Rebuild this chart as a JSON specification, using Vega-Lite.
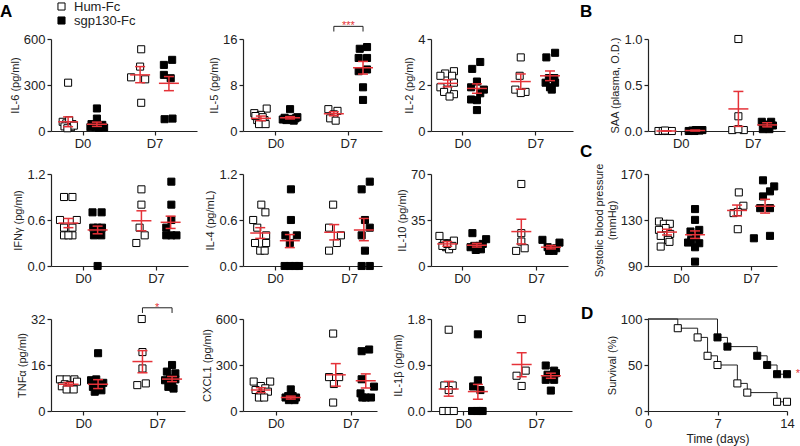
{
"$schema": "https://vega.github.io/schema/vega-lite/v6.json",
"autosize": {"type": "none"},
"padding": {"left": 51, "top": 39, "right": 749, "bottom": 407},
"config": {
 "view": {"stroke": null},
 "font": "Liberation Sans",
 "axis": {"domainColor": "#222", "tickColor": "#222", "labelColor": "#222", "titleColor": "#222", "grid": false, "labelFontSize": 13, "titleFontSize": 11, "titleFontWeight": "normal", "tickSize": 4, "labelPadding": 2, "titlePadding": 3, "domainWidth": 1.2, "tickWidth": 1.2, "labelFlush": false, "labelOverlap": false, "labelFont": "Liberation Sans", "titleFont": "Liberation Sans"},
 "title": {"fontSize": 17, "fontWeight": "bold", "anchor": "start", "frame": "group", "font": "Liberation Sans", "baseline": "alphabetic", "offset": 0, "color": "black"}
},
"datasets": {
 "pts": [
  {"p":"IL6","g":"Hum-Fc","x":0.6,"v":315},{"p":"IL6","g":"Hum-Fc","x":0.45,"v":60},{"p":"IL6","g":"Hum-Fc","x":0.55,"v":50},{"p":"IL6","g":"Hum-Fc","x":0.72,"v":45},{"p":"IL6","g":"Hum-Fc","x":0.63,"v":70},{"p":"IL6","g":"Hum-Fc","x":0.5,"v":30},{"p":"IL6","g":"Hum-Fc","x":0.68,"v":25},{"p":"IL6","g":"Hum-Fc","x":0.76,"v":35},{"p":"IL6","g":"Hum-Fc","x":0.58,"v":18},
  {"p":"IL6","g":"sgp130-Fc","x":1.4,"v":147},{"p":"IL6","g":"sgp130-Fc","x":1.4,"v":81},{"p":"IL6","g":"sgp130-Fc","x":1.25,"v":45},{"p":"IL6","g":"sgp130-Fc","x":1.55,"v":40},{"p":"IL6","g":"sgp130-Fc","x":1.3,"v":35},{"p":"IL6","g":"sgp130-Fc","x":1.5,"v":30},{"p":"IL6","g":"sgp130-Fc","x":1.36,"v":25},{"p":"IL6","g":"sgp130-Fc","x":1.45,"v":20},{"p":"IL6","g":"sgp130-Fc","x":1.6,"v":22},{"p":"IL6","g":"sgp130-Fc","x":1.22,"v":25},
  {"p":"IL6","g":"Hum-Fc","x":2.63,"v":533},{"p":"IL6","g":"Hum-Fc","x":2.6,"v":420},{"p":"IL6","g":"Hum-Fc","x":2.35,"v":350},{"p":"IL6","g":"Hum-Fc","x":2.74,"v":337},{"p":"IL6","g":"Hum-Fc","x":2.63,"v":184},
  {"p":"IL6","g":"sgp130-Fc","x":3.26,"v":431},{"p":"IL6","g":"sgp130-Fc","x":3.49,"v":464},{"p":"IL6","g":"sgp130-Fc","x":3.26,"v":366},{"p":"IL6","g":"sgp130-Fc","x":3.45,"v":344},{"p":"IL6","g":"sgp130-Fc","x":3.28,"v":77},{"p":"IL6","g":"sgp130-Fc","x":3.5,"v":81},

  {"p":"IL5","g":"Hum-Fc","x":0.42,"v":3.1},{"p":"IL5","g":"Hum-Fc","x":0.76,"v":3.9},{"p":"IL5","g":"Hum-Fc","x":0.6,"v":2.8},{"p":"IL5","g":"Hum-Fc","x":0.5,"v":1.9},{"p":"IL5","g":"Hum-Fc","x":0.7,"v":1.9},{"p":"IL5","g":"Hum-Fc","x":0.55,"v":1.2},{"p":"IL5","g":"Hum-Fc","x":0.73,"v":1.2},{"p":"IL5","g":"Hum-Fc","x":0.45,"v":2.6},{"p":"IL5","g":"Hum-Fc","x":0.65,"v":2.4},
  {"p":"IL5","g":"sgp130-Fc","x":1.4,"v":3.8},{"p":"IL5","g":"sgp130-Fc","x":1.25,"v":2.3},{"p":"IL5","g":"sgp130-Fc","x":1.35,"v":2.1},{"p":"IL5","g":"sgp130-Fc","x":1.45,"v":2.0},{"p":"IL5","g":"sgp130-Fc","x":1.55,"v":2.2},{"p":"IL5","g":"sgp130-Fc","x":1.3,"v":1.9},{"p":"IL5","g":"sgp130-Fc","x":1.5,"v":1.8},{"p":"IL5","g":"sgp130-Fc","x":1.6,"v":2.4},{"p":"IL5","g":"sgp130-Fc","x":1.2,"v":2.0},
  {"p":"IL5","g":"Hum-Fc","x":2.45,"v":3.8},{"p":"IL5","g":"Hum-Fc","x":2.7,"v":3.5},{"p":"IL5","g":"Hum-Fc","x":2.6,"v":2.9},{"p":"IL5","g":"Hum-Fc","x":2.5,"v":2.2},{"p":"IL5","g":"Hum-Fc","x":2.65,"v":1.8},
  {"p":"IL5","g":"sgp130-Fc","x":3.31,"v":14.3},{"p":"IL5","g":"sgp130-Fc","x":3.51,"v":14.6},{"p":"IL5","g":"sgp130-Fc","x":3.28,"v":12.7},{"p":"IL5","g":"sgp130-Fc","x":3.51,"v":12.7},{"p":"IL5","g":"sgp130-Fc","x":3.28,"v":10.4},{"p":"IL5","g":"sgp130-Fc","x":3.51,"v":10.7},{"p":"IL5","g":"sgp130-Fc","x":3.4,"v":7.6},{"p":"IL5","g":"sgp130-Fc","x":3.4,"v":5.4},

  {"p":"IL2","g":"Hum-Fc","x":0.77,"v":2.6},{"p":"IL2","g":"Hum-Fc","x":0.53,"v":2.5},{"p":"IL2","g":"Hum-Fc","x":0.72,"v":2.4},{"p":"IL2","g":"Hum-Fc","x":0.4,"v":2.4},{"p":"IL2","g":"Hum-Fc","x":0.77,"v":2.1},{"p":"IL2","g":"Hum-Fc","x":0.4,"v":1.9},{"p":"IL2","g":"Hum-Fc","x":0.6,"v":1.8},{"p":"IL2","g":"Hum-Fc","x":0.5,"v":1.7},{"p":"IL2","g":"Hum-Fc","x":0.77,"v":1.6},{"p":"IL2","g":"Hum-Fc","x":0.65,"v":1.5},
  {"p":"IL2","g":"sgp130-Fc","x":1.49,"v":3.0},{"p":"IL2","g":"sgp130-Fc","x":1.27,"v":2.7},{"p":"IL2","g":"sgp130-Fc","x":1.4,"v":2.15},{"p":"IL2","g":"sgp130-Fc","x":1.24,"v":1.9},{"p":"IL2","g":"sgp130-Fc","x":1.59,"v":1.8},{"p":"IL2","g":"sgp130-Fc","x":1.49,"v":1.64},{"p":"IL2","g":"sgp130-Fc","x":1.24,"v":1.37},{"p":"IL2","g":"sgp130-Fc","x":1.4,"v":1.34},{"p":"IL2","g":"sgp130-Fc","x":1.4,"v":0.91},
  {"p":"IL2","g":"Hum-Fc","x":2.6,"v":3.2},{"p":"IL2","g":"Hum-Fc","x":2.57,"v":2.4},{"p":"IL2","g":"Hum-Fc","x":2.45,"v":1.8},{"p":"IL2","g":"Hum-Fc","x":2.73,"v":1.7},{"p":"IL2","g":"Hum-Fc","x":2.6,"v":1.65},
  {"p":"IL2","g":"sgp130-Fc","x":3.54,"v":3.4},{"p":"IL2","g":"sgp130-Fc","x":3.3,"v":3.2},{"p":"IL2","g":"sgp130-Fc","x":3.37,"v":2.3},{"p":"IL2","g":"sgp130-Fc","x":3.52,"v":2.3},{"p":"IL2","g":"sgp130-Fc","x":3.28,"v":2.1},{"p":"IL2","g":"sgp130-Fc","x":3.54,"v":2.1},{"p":"IL2","g":"sgp130-Fc","x":3.4,"v":1.9},{"p":"IL2","g":"sgp130-Fc","x":3.45,"v":1.8},

  {"p":"SAA","g":"Hum-Fc","x":0.38,"v":0},{"p":"SAA","g":"Hum-Fc","x":0.5,"v":0},{"p":"SAA","g":"Hum-Fc","x":0.62,"v":0},{"p":"SAA","g":"Hum-Fc","x":0.75,"v":0},{"p":"SAA","g":"Hum-Fc","x":0.56,"v":0.005},
  {"p":"SAA","g":"sgp130-Fc","x":1.22,"v":0},{"p":"SAA","g":"sgp130-Fc","x":1.32,"v":0.005},{"p":"SAA","g":"sgp130-Fc","x":1.42,"v":0.01},{"p":"SAA","g":"sgp130-Fc","x":1.52,"v":0.005},{"p":"SAA","g":"sgp130-Fc","x":1.6,"v":0.01},{"p":"SAA","g":"sgp130-Fc","x":1.38,"v":0},
  {"p":"SAA","g":"Hum-Fc","x":2.6,"v":1.0},{"p":"SAA","g":"Hum-Fc","x":2.6,"v":0.16},{"p":"SAA","g":"Hum-Fc","x":2.43,"v":0.01},{"p":"SAA","g":"Hum-Fc","x":2.75,"v":0.01},{"p":"SAA","g":"Hum-Fc","x":2.6,"v":0.02},
  {"p":"SAA","g":"sgp130-Fc","x":3.25,"v":0.1},{"p":"SAA","g":"sgp130-Fc","x":3.51,"v":0.1},{"p":"SAA","g":"sgp130-Fc","x":3.32,"v":0.07},{"p":"SAA","g":"sgp130-Fc","x":3.42,"v":0.04},{"p":"SAA","g":"sgp130-Fc","x":3.56,"v":0.06},{"p":"SAA","g":"sgp130-Fc","x":3.28,"v":0.02},{"p":"SAA","g":"sgp130-Fc","x":3.46,"v":0.02},

  {"p":"IFN","g":"Hum-Fc","x":0.48,"v":0.9},{"p":"IFN","g":"Hum-Fc","x":0.71,"v":0.9},{"p":"IFN","g":"Hum-Fc","x":0.37,"v":0.6},{"p":"IFN","g":"Hum-Fc","x":0.83,"v":0.6},{"p":"IFN","g":"Hum-Fc","x":0.48,"v":0.5},{"p":"IFN","g":"Hum-Fc","x":0.71,"v":0.5},{"p":"IFN","g":"Hum-Fc","x":0.48,"v":0.4},{"p":"IFN","g":"Hum-Fc","x":0.71,"v":0.4},{"p":"IFN","g":"Hum-Fc","x":0.6,"v":0.4},
  {"p":"IFN","g":"sgp130-Fc","x":1.26,"v":0.7},{"p":"IFN","g":"sgp130-Fc","x":1.51,"v":0.7},{"p":"IFN","g":"sgp130-Fc","x":1.4,"v":0.5},{"p":"IFN","g":"sgp130-Fc","x":1.28,"v":0.5},{"p":"IFN","g":"sgp130-Fc","x":1.52,"v":0.5},{"p":"IFN","g":"sgp130-Fc","x":1.3,"v":0.4},{"p":"IFN","g":"sgp130-Fc","x":1.5,"v":0.4},{"p":"IFN","g":"sgp130-Fc","x":1.4,"v":0.0},
  {"p":"IFN","g":"Hum-Fc","x":2.6,"v":1.0},{"p":"IFN","g":"Hum-Fc","x":2.6,"v":0.8},{"p":"IFN","g":"Hum-Fc","x":2.55,"v":0.5},{"p":"IFN","g":"Hum-Fc","x":2.69,"v":0.4},{"p":"IFN","g":"Hum-Fc","x":2.46,"v":0.3},
  {"p":"IFN","g":"sgp130-Fc","x":3.42,"v":1.1},{"p":"IFN","g":"sgp130-Fc","x":3.42,"v":0.8},{"p":"IFN","g":"sgp130-Fc","x":3.42,"v":0.6},{"p":"IFN","g":"sgp130-Fc","x":3.28,"v":0.5},{"p":"IFN","g":"sgp130-Fc","x":3.28,"v":0.4},{"p":"IFN","g":"sgp130-Fc","x":3.42,"v":0.4},{"p":"IFN","g":"sgp130-Fc","x":3.56,"v":0.4},

  {"p":"IL4","g":"Hum-Fc","x":0.63,"v":0.8},{"p":"IL4","g":"Hum-Fc","x":0.74,"v":0.7},{"p":"IL4","g":"Hum-Fc","x":0.41,"v":0.6},{"p":"IL4","g":"Hum-Fc","x":0.52,"v":0.5},{"p":"IL4","g":"Hum-Fc","x":0.76,"v":0.4},{"p":"IL4","g":"Hum-Fc","x":0.46,"v":0.3},{"p":"IL4","g":"Hum-Fc","x":0.76,"v":0.3},{"p":"IL4","g":"Hum-Fc","x":0.6,"v":0.2},{"p":"IL4","g":"Hum-Fc","x":0.72,"v":0.2},
  {"p":"IL4","g":"sgp130-Fc","x":1.43,"v":1.0},{"p":"IL4","g":"sgp130-Fc","x":1.43,"v":0.6},{"p":"IL4","g":"sgp130-Fc","x":1.28,"v":0.4},{"p":"IL4","g":"sgp130-Fc","x":1.59,"v":0.4},{"p":"IL4","g":"sgp130-Fc","x":1.4,"v":0.3},{"p":"IL4","g":"sgp130-Fc","x":1.26,"v":0},{"p":"IL4","g":"sgp130-Fc","x":1.4,"v":0},{"p":"IL4","g":"sgp130-Fc","x":1.54,"v":0},{"p":"IL4","g":"sgp130-Fc","x":1.65,"v":0},
  {"p":"IL4","g":"Hum-Fc","x":2.57,"v":0.8},{"p":"IL4","g":"Hum-Fc","x":2.46,"v":0.5},{"p":"IL4","g":"Hum-Fc","x":2.78,"v":0.4},{"p":"IL4","g":"Hum-Fc","x":2.67,"v":0.3},{"p":"IL4","g":"Hum-Fc","x":2.46,"v":0.2},
  {"p":"IL4","g":"sgp130-Fc","x":3.56,"v":1.1},{"p":"IL4","g":"sgp130-Fc","x":3.34,"v":1.0},{"p":"IL4","g":"sgp130-Fc","x":3.43,"v":0.6},{"p":"IL4","g":"sgp130-Fc","x":3.56,"v":0.5},{"p":"IL4","g":"sgp130-Fc","x":3.34,"v":0.4},{"p":"IL4","g":"sgp130-Fc","x":3.43,"v":0.2},{"p":"IL4","g":"sgp130-Fc","x":3.34,"v":0},{"p":"IL4","g":"sgp130-Fc","x":3.56,"v":0},

  {"p":"IL10","g":"Hum-Fc","x":0.39,"v":22.9},{"p":"IL10","g":"Hum-Fc","x":0.52,"v":17.3},{"p":"IL10","g":"Hum-Fc","x":0.65,"v":17.3},{"p":"IL10","g":"Hum-Fc","x":0.78,"v":19.3},{"p":"IL10","g":"Hum-Fc","x":0.57,"v":14.3},{"p":"IL10","g":"Hum-Fc","x":0.65,"v":12.7},{"p":"IL10","g":"Hum-Fc","x":0.47,"v":15.3},{"p":"IL10","g":"Hum-Fc","x":0.74,"v":15.3},{"p":"IL10","g":"Hum-Fc","x":0.6,"v":16.8},
  {"p":"IL10","g":"sgp130-Fc","x":1.28,"v":25},{"p":"IL10","g":"sgp130-Fc","x":1.65,"v":20.4},{"p":"IL10","g":"sgp130-Fc","x":1.33,"v":15.3},{"p":"IL10","g":"sgp130-Fc","x":1.47,"v":15.3},{"p":"IL10","g":"sgp130-Fc","x":1.51,"v":12.7},{"p":"IL10","g":"sgp130-Fc","x":1.37,"v":12.2},{"p":"IL10","g":"sgp130-Fc","x":1.23,"v":14.3},{"p":"IL10","g":"sgp130-Fc","x":1.56,"v":16.8},{"p":"IL10","g":"sgp130-Fc","x":1.42,"v":13},
  {"p":"IL10","g":"Hum-Fc","x":2.6,"v":62.4},{"p":"IL10","g":"Hum-Fc","x":2.6,"v":25},{"p":"IL10","g":"Hum-Fc","x":2.6,"v":18.6},{"p":"IL10","g":"Hum-Fc","x":2.69,"v":13.5},{"p":"IL10","g":"Hum-Fc","x":2.46,"v":11.5},
  {"p":"IL10","g":"sgp130-Fc","x":3.17,"v":19.9},{"p":"IL10","g":"sgp130-Fc","x":3.63,"v":17.8},{"p":"IL10","g":"sgp130-Fc","x":3.31,"v":14.3},{"p":"IL10","g":"sgp130-Fc","x":3.4,"v":12.2},{"p":"IL10","g":"sgp130-Fc","x":3.54,"v":13.5},{"p":"IL10","g":"sgp130-Fc","x":3.35,"v":11.5},{"p":"IL10","g":"sgp130-Fc","x":3.47,"v":11.5},

  {"p":"SBP","g":"Hum-Fc","x":0.37,"v":128.7},{"p":"SBP","g":"Hum-Fc","x":0.51,"v":126.7},{"p":"SBP","g":"Hum-Fc","x":0.68,"v":126.7},{"p":"SBP","g":"Hum-Fc","x":0.56,"v":123},{"p":"SBP","g":"Hum-Fc","x":0.37,"v":121.4},{"p":"SBP","g":"Hum-Fc","x":0.69,"v":117.9},{"p":"SBP","g":"Hum-Fc","x":0.42,"v":116.2},{"p":"SBP","g":"Hum-Fc","x":0.63,"v":112.7},{"p":"SBP","g":"Hum-Fc","x":0.42,"v":106.9},{"p":"SBP","g":"Hum-Fc","x":0.67,"v":111},
  {"p":"SBP","g":"sgp130-Fc","x":1.4,"v":139.5},{"p":"SBP","g":"sgp130-Fc","x":1.4,"v":130.1},{"p":"SBP","g":"sgp130-Fc","x":1.27,"v":120},{"p":"SBP","g":"sgp130-Fc","x":1.52,"v":121.4},{"p":"SBP","g":"sgp130-Fc","x":1.29,"v":112.7},{"p":"SBP","g":"sgp130-Fc","x":1.43,"v":115.6},{"p":"SBP","g":"sgp130-Fc","x":1.52,"v":109.8},{"p":"SBP","g":"sgp130-Fc","x":1.2,"v":110.4},{"p":"SBP","g":"sgp130-Fc","x":1.4,"v":106.3},{"p":"SBP","g":"sgp130-Fc","x":1.4,"v":93.8},
  {"p":"SBP","g":"Hum-Fc","x":2.65,"v":154},{"p":"SBP","g":"Hum-Fc","x":2.78,"v":142.4},{"p":"SBP","g":"Hum-Fc","x":2.5,"v":136},{"p":"SBP","g":"Hum-Fc","x":2.62,"v":137},{"p":"SBP","g":"Hum-Fc","x":2.62,"v":122},
  {"p":"SBP","g":"sgp130-Fc","x":3.34,"v":164.5},{"p":"SBP","g":"sgp130-Fc","x":3.66,"v":159.2},{"p":"SBP","g":"sgp130-Fc","x":3.54,"v":154.9},{"p":"SBP","g":"sgp130-Fc","x":3.34,"v":150.5},{"p":"SBP","g":"sgp130-Fc","x":3.26,"v":140.3},{"p":"SBP","g":"sgp130-Fc","x":3.54,"v":140.3},{"p":"SBP","g":"sgp130-Fc","x":3.08,"v":114.1},{"p":"SBP","g":"sgp130-Fc","x":3.54,"v":116.2},

  {"p":"TNF","g":"Hum-Fc","x":0.37,"v":11},{"p":"TNF","g":"Hum-Fc","x":0.55,"v":11},{"p":"TNF","g":"Hum-Fc","x":0.76,"v":11},{"p":"TNF","g":"Hum-Fc","x":0.83,"v":10.2},{"p":"TNF","g":"Hum-Fc","x":0.5,"v":9.3},{"p":"TNF","g":"Hum-Fc","x":0.64,"v":9},{"p":"TNF","g":"Hum-Fc","x":0.42,"v":8.6},{"p":"TNF","g":"Hum-Fc","x":0.55,"v":7.5},{"p":"TNF","g":"Hum-Fc","x":0.74,"v":7.5},
  {"p":"TNF","g":"sgp130-Fc","x":1.4,"v":20.1},{"p":"TNF","g":"sgp130-Fc","x":1.21,"v":10.7},{"p":"TNF","g":"sgp130-Fc","x":1.35,"v":11},{"p":"TNF","g":"sgp130-Fc","x":1.54,"v":9.8},{"p":"TNF","g":"sgp130-Fc","x":1.26,"v":8.4},{"p":"TNF","g":"sgp130-Fc","x":1.45,"v":7.8},{"p":"TNF","g":"sgp130-Fc","x":1.31,"v":6.7},{"p":"TNF","g":"sgp130-Fc","x":1.49,"v":7.2},{"p":"TNF","g":"sgp130-Fc","x":1.4,"v":9.3},
  {"p":"TNF","g":"Hum-Fc","x":2.58,"v":32},{"p":"TNF","g":"Hum-Fc","x":2.6,"v":20.5},{"p":"TNF","g":"Hum-Fc","x":2.6,"v":14.8},{"p":"TNF","g":"Hum-Fc","x":2.46,"v":9},{"p":"TNF","g":"Hum-Fc","x":2.69,"v":9.6},
  {"p":"TNF","g":"sgp130-Fc","x":3.4,"v":16},{"p":"TNF","g":"sgp130-Fc","x":3.26,"v":13.7},{"p":"TNF","g":"sgp130-Fc","x":3.49,"v":13.1},{"p":"TNF","g":"sgp130-Fc","x":3.35,"v":11.3},{"p":"TNF","g":"sgp130-Fc","x":3.49,"v":11},{"p":"TNF","g":"sgp130-Fc","x":3.21,"v":10.7},{"p":"TNF","g":"sgp130-Fc","x":3.3,"v":8.4},{"p":"TNF","g":"sgp130-Fc","x":3.44,"v":7.8},{"p":"TNF","g":"sgp130-Fc","x":3.4,"v":9.6},

  {"p":"CX","g":"Hum-Fc","x":0.41,"v":192},{"p":"CX","g":"Hum-Fc","x":0.85,"v":192},{"p":"CX","g":"Hum-Fc","x":0.6,"v":163},{"p":"CX","g":"Hum-Fc","x":0.72,"v":148},{"p":"CX","g":"Hum-Fc","x":0.46,"v":137},{"p":"CX","g":"Hum-Fc","x":0.79,"v":126},{"p":"CX","g":"Hum-Fc","x":0.6,"v":104},{"p":"CX","g":"Hum-Fc","x":0.55,"v":88},{"p":"CX","g":"Hum-Fc","x":0.69,"v":88},
  {"p":"CX","g":"sgp130-Fc","x":1.4,"v":141},{"p":"CX","g":"sgp130-Fc","x":1.26,"v":88},{"p":"CX","g":"sgp130-Fc","x":1.4,"v":82},{"p":"CX","g":"sgp130-Fc","x":1.54,"v":88},{"p":"CX","g":"sgp130-Fc","x":1.33,"v":97},{"p":"CX","g":"sgp130-Fc","x":1.5,"v":71},{"p":"CX","g":"sgp130-Fc","x":1.35,"v":71},{"p":"CX","g":"sgp130-Fc","x":1.45,"v":97},
  {"p":"CX","g":"Hum-Fc","x":2.53,"v":505},{"p":"CX","g":"Hum-Fc","x":2.42,"v":221},{"p":"CX","g":"Hum-Fc","x":2.69,"v":221},{"p":"CX","g":"Hum-Fc","x":2.55,"v":176},{"p":"CX","g":"Hum-Fc","x":2.53,"v":55},
  {"p":"CX","g":"sgp130-Fc","x":3.29,"v":390},{"p":"CX","g":"sgp130-Fc","x":3.49,"v":401},{"p":"CX","g":"sgp130-Fc","x":3.29,"v":207},{"p":"CX","g":"sgp130-Fc","x":3.62,"v":159},{"p":"CX","g":"sgp130-Fc","x":3.26,"v":115},{"p":"CX","g":"sgp130-Fc","x":3.4,"v":88},{"p":"CX","g":"sgp130-Fc","x":3.54,"v":88},{"p":"CX","g":"sgp130-Fc","x":3.31,"v":88},

  {"p":"IL1","g":"Hum-Fc","x":0.6,"v":1.59},{"p":"IL1","g":"Hum-Fc","x":0.48,"v":0.5},{"p":"IL1","g":"Hum-Fc","x":0.71,"v":0.5},{"p":"IL1","g":"Hum-Fc","x":0.6,"v":0.41},{"p":"IL1","g":"Hum-Fc","x":0.45,"v":0},{"p":"IL1","g":"Hum-Fc","x":0.6,"v":0},{"p":"IL1","g":"Hum-Fc","x":0.74,"v":0},
  {"p":"IL1","g":"sgp130-Fc","x":1.4,"v":1.5},{"p":"IL1","g":"sgp130-Fc","x":1.4,"v":0.6},{"p":"IL1","g":"sgp130-Fc","x":1.27,"v":0.48},{"p":"IL1","g":"sgp130-Fc","x":1.47,"v":0.41},{"p":"IL1","g":"sgp130-Fc","x":1.24,"v":0},{"p":"IL1","g":"sgp130-Fc","x":1.38,"v":0},{"p":"IL1","g":"sgp130-Fc","x":1.53,"v":0},{"p":"IL1","g":"sgp130-Fc","x":1.46,"v":0},
  {"p":"IL1","g":"Hum-Fc","x":2.6,"v":1.8},{"p":"IL1","g":"Hum-Fc","x":2.71,"v":0.79},{"p":"IL1","g":"Hum-Fc","x":2.46,"v":0.69},{"p":"IL1","g":"Hum-Fc","x":2.6,"v":0.49},
  {"p":"IL1","g":"sgp130-Fc","x":3.26,"v":0.89},{"p":"IL1","g":"sgp130-Fc","x":3.49,"v":0.79},{"p":"IL1","g":"sgp130-Fc","x":3.31,"v":0.71},{"p":"IL1","g":"sgp130-Fc","x":3.54,"v":0.74},{"p":"IL1","g":"sgp130-Fc","x":3.4,"v":0.66},{"p":"IL1","g":"sgp130-Fc","x":3.26,"v":0.61},{"p":"IL1","g":"sgp130-Fc","x":3.49,"v":0.61},{"p":"IL1","g":"sgp130-Fc","x":3.4,"v":0.4}
 ],
 "sum": [
  {"p":"IL6","x":0.6,"v":60,"lo":28,"hi":92},{"p":"IL6","x":1.4,"v":44,"lo":30,"hi":58},{"p":"IL6","x":2.6,"v":366,"lo":315,"hi":420},{"p":"IL6","x":3.4,"v":311,"lo":263,"hi":355},
  {"p":"IL5","x":0.6,"v":2.2,"lo":1.8,"hi":2.6},{"p":"IL5","x":1.4,"v":2.3,"lo":2.1,"hi":2.5},{"p":"IL5","x":2.6,"v":3.0,"lo":2.65,"hi":3.35},{"p":"IL5","x":3.4,"v":11.0,"lo":9.9,"hi":12.1},
  {"p":"IL2","x":0.6,"v":2.07,"lo":1.92,"hi":2.22},{"p":"IL2","x":1.4,"v":1.85,"lo":1.64,"hi":2.05},{"p":"IL2","x":2.6,"v":2.15,"lo":1.82,"hi":2.48},{"p":"IL2","x":3.4,"v":2.4,"lo":2.19,"hi":2.61},
  {"p":"SAA","x":0.6,"v":0.0,"lo":0.0,"hi":0.0},{"p":"SAA","x":1.4,"v":0.005,"lo":0.0,"hi":0.01},{"p":"SAA","x":2.6,"v":0.24,"lo":0.05,"hi":0.43},{"p":"SAA","x":3.4,"v":0.066,"lo":0.045,"hi":0.09},
  {"p":"IFN","x":0.6,"v":0.56,"lo":0.5,"hi":0.62},{"p":"IFN","x":1.4,"v":0.47,"lo":0.42,"hi":0.52},{"p":"IFN","x":2.6,"v":0.59,"lo":0.46,"hi":0.72},{"p":"IFN","x":3.4,"v":0.57,"lo":0.49,"hi":0.65},
  {"p":"IL4","x":0.6,"v":0.43,"lo":0.36,"hi":0.5},{"p":"IL4","x":1.4,"v":0.33,"lo":0.24,"hi":0.41},{"p":"IL4","x":2.6,"v":0.44,"lo":0.34,"hi":0.54},{"p":"IL4","x":3.4,"v":0.47,"lo":0.33,"hi":0.62},
  {"p":"IL10","x":0.6,"v":16.8,"lo":15.0,"hi":18.5},{"p":"IL10","x":1.4,"v":15.8,"lo":14.4,"hi":17.2},{"p":"IL10","x":2.6,"v":26.2,"lo":16.8,"hi":35.6},{"p":"IL10","x":3.4,"v":14.3,"lo":13.0,"hi":15.6},
  {"p":"SBP","x":0.6,"v":119.5,"lo":117,"hi":122},{"p":"SBP","x":1.4,"v":117.2,"lo":114,"hi":120.5},{"p":"SBP","x":2.6,"v":138.3,"lo":133.5,"hi":143},{"p":"SBP","x":3.4,"v":142,"lo":136,"hi":148},
  {"p":"TNF","x":0.6,"v":9.3,"lo":8.7,"hi":9.9},{"p":"TNF","x":1.4,"v":9.3,"lo":7.8,"hi":10.9},{"p":"TNF","x":2.6,"v":17.2,"lo":13.3,"hi":21},{"p":"TNF","x":3.4,"v":11.1,"lo":10.2,"hi":12},
  {"p":"CX","x":0.6,"v":137,"lo":120,"hi":152},{"p":"CX","x":1.4,"v":88,"lo":78,"hi":97},{"p":"CX","x":2.6,"v":236,"lo":162,"hi":309},{"p":"CX","x":3.4,"v":197,"lo":150,"hi":242},
  {"p":"IL1","x":0.6,"v":0.43,"lo":0.29,"hi":0.58},{"p":"IL1","x":1.4,"v":0.38,"lo":0.23,"hi":0.52},{"p":"IL1","x":2.6,"v":0.91,"lo":0.67,"hi":1.14},{"p":"IL1","x":3.4,"v":0.69,"lo":0.64,"hi":0.74}
 ],
 "br": [
  {"p":"IL5","x":2.6,"x2":3.4,"v":18.2,"v2":18.2},{"p":"IL5","x":2.6,"x2":2.6,"v":17.3,"v2":18.2},{"p":"IL5","x":3.4,"x2":3.4,"v":17.3,"v2":18.2},
  {"p":"TNF","x":2.6,"x2":3.4,"v":35.9,"v2":35.9},{"p":"TNF","x":2.6,"x2":2.6,"v":34.1,"v2":35.9},{"p":"TNF","x":3.4,"x2":3.4,"v":34.1,"v2":35.9}
 ],
 "sig": [
  {"p":"IL5","x":3.0,"v":18.2,"t":"***"},
  {"p":"TNF","x":3.0,"v":35.9,"t":"*"},
  {"p":"D","x":15.1,"v":40,"t":"*"}
 ],
 "surv": [
  {"g":"Hum-Fc","x":0,"v":100},{"g":"Hum-Fc","x":3,"v":90},{"g":"Hum-Fc","x":5,"v":80},{"g":"Hum-Fc","x":6,"v":60},{"g":"Hum-Fc","x":7,"v":50},{"g":"Hum-Fc","x":9,"v":30},{"g":"Hum-Fc","x":10,"v":20},{"g":"Hum-Fc","x":13,"v":10},{"g":"Hum-Fc","x":14,"v":10},
  {"g":"sgp130-Fc","x":0,"v":100},{"g":"sgp130-Fc","x":7,"v":80},{"g":"sgp130-Fc","x":8,"v":70},{"g":"sgp130-Fc","x":11,"v":60},{"g":"sgp130-Fc","x":12,"v":50},{"g":"sgp130-Fc","x":13,"v":40},{"g":"sgp130-Fc","x":14,"v":40}
 ]
},
"columns": 4,
"spacing": {"row": 33, "column": 43},
"bounds": "flush",
"concat": [
 {"width": 149, "height": 92, "title": {"text": "A", "dx": -51, "dy": -8},
  "encoding": {"x": {"field": "x", "type": "quantitative", "scale": {"domain": [0.125, 4.18], "range": [0, 146], "nice": false, "zero": false}, "axis": {"values": [1, 3], "labelExpr": "datum.value == 1 ? 'D0' : 'D7'", "title": null}},
   "y": {"field": "v", "type": "quantitative", "scale": {"domain": [0, 600], "range": [92, 0], "nice": false, "zero": false}, "axis": {"values": [0, 300, 600], "title": "IL-6 (pg/ml)"}}},
  "layer": [
   {"data": {"name": "pts"}, "transform": [{"filter": "datum.p == 'IL6'"}], "mark": {"type": "point", "shape": "square", "size": 50, "stroke": "black", "strokeWidth": 1, "opacity": 1},
    "encoding": {"fill": {"field": "g", "type": "nominal", "scale": {"domain": ["Hum-Fc", "sgp130-Fc"], "range": ["white", "black"]}, "legend": {"title": null, "orient": "none", "legendX": 4, "legendY": -39, "labelFontSize": 13, "symbolType": "square", "symbolSize": 50, "symbolStrokeColor": "black", "symbolStrokeWidth": 1, "rowPadding": 0, "labelOffset": 6, "labelColor": "#222"}}}},
   {"data": {"name": "sum"}, "transform": [{"filter": "datum.p == 'IL6'"}], "mark": {"type": "rule", "color": "#e53238", "strokeWidth": 1.5}, "encoding": {"y": {"field": "lo", "type": "quantitative"}, "y2": {"field": "hi"}}},
   {"data": {"name": "sum"}, "transform": [{"filter": "datum.p == 'IL6'"}], "mark": {"type": "tick", "orient": "horizontal", "size": 20, "thickness": 1.5, "color": "#e53238", "opacity": 1}},
   {"data": {"name": "sum"}, "transform": [{"filter": "datum.p == 'IL6'"}], "mark": {"type": "tick", "orient": "horizontal", "size": 10, "thickness": 1.5, "color": "#e53238", "opacity": 1}, "encoding": {"y": {"field": "lo", "type": "quantitative"}}},
   {"data": {"name": "sum"}, "transform": [{"filter": "datum.p == 'IL6'"}], "mark": {"type": "tick", "orient": "horizontal", "size": 10, "thickness": 1.5, "color": "#e53238", "opacity": 1}, "encoding": {"y": {"field": "hi", "type": "quantitative"}}}
  ]},
 {"width": 145, "height": 92,
  "encoding": {"x": {"field": "x", "type": "quantitative", "scale": {"domain": [0.11, 3.92], "range": [0, 139], "nice": false, "zero": false}, "axis": {"values": [1, 3], "labelExpr": "datum.value == 1 ? 'D0' : 'D7'", "title": null}},
   "y": {"field": "v", "type": "quantitative", "scale": {"domain": [0, 16], "range": [92, 0], "nice": false, "zero": false}, "axis": {"values": [0, 8, 16], "title": "IL-5 (pg/ml)"}}},
  "layer": [
   {"data": {"name": "pts"}, "transform": [{"filter": "datum.p == 'IL5'"}], "mark": {"type": "point", "shape": "square", "size": 50, "stroke": "black", "strokeWidth": 1, "opacity": 1},
    "encoding": {"fill": {"field": "g", "type": "nominal", "scale": {"domain": ["Hum-Fc", "sgp130-Fc"], "range": ["white", "black"]}, "legend": {"title": null, "orient": "none", "legendX": 4, "legendY": -39, "labelFontSize": 13, "symbolType": "square", "symbolSize": 50, "symbolStrokeColor": "black", "symbolStrokeWidth": 1, "rowPadding": 0, "labelOffset": 6, "labelColor": "#222"}}}},
   {"data": {"name": "sum"}, "transform": [{"filter": "datum.p == 'IL5'"}], "mark": {"type": "rule", "color": "#e53238", "strokeWidth": 1.5}, "encoding": {"y": {"field": "lo", "type": "quantitative"}, "y2": {"field": "hi"}}},
   {"data": {"name": "sum"}, "transform": [{"filter": "datum.p == 'IL5'"}], "mark": {"type": "tick", "orient": "horizontal", "size": 20, "thickness": 1.5, "color": "#e53238", "opacity": 1}},
   {"data": {"name": "sum"}, "transform": [{"filter": "datum.p == 'IL5'"}], "mark": {"type": "tick", "orient": "horizontal", "size": 10, "thickness": 1.5, "color": "#e53238", "opacity": 1}, "encoding": {"y": {"field": "lo", "type": "quantitative"}}},
   {"data": {"name": "sum"}, "transform": [{"filter": "datum.p == 'IL5'"}], "mark": {"type": "tick", "orient": "horizontal", "size": 10, "thickness": 1.5, "color": "#e53238", "opacity": 1}, "encoding": {"y": {"field": "hi", "type": "quantitative"}}},
   {"data": {"name": "br"}, "transform": [{"filter": "datum.p == 'IL5'"}], "mark": {"type": "rule", "color": "#222", "strokeWidth": 1}, "encoding": {"x2": {"field": "x2"}, "y2": {"field": "v2"}}},
   {"data": {"name": "sig"}, "transform": [{"filter": "datum.p == 'IL5'"}], "mark": {"type": "text", "color": "#e53238", "fontSize": 11, "baseline": "alphabetic", "dy": 3}, "encoding": {"text": {"field": "t"}}}
  ]},
 {"width": 174, "height": 92,
  "encoding": {"x": {"field": "x", "type": "quantitative", "scale": {"domain": [0.142, 4.03], "range": [0, 142], "nice": false, "zero": false}, "axis": {"values": [1, 3], "labelExpr": "datum.value == 1 ? 'D0' : 'D7'", "title": null}},
   "y": {"field": "v", "type": "quantitative", "scale": {"domain": [0, 4], "range": [92, 0], "nice": false, "zero": false}, "axis": {"values": [0, 2, 4], "title": "IL-2 (pg/ml)"}}},
  "layer": [
   {"data": {"name": "pts"}, "transform": [{"filter": "datum.p == 'IL2'"}], "mark": {"type": "point", "shape": "square", "size": 50, "stroke": "black", "strokeWidth": 1, "opacity": 1},
    "encoding": {"fill": {"field": "g", "type": "nominal", "scale": {"domain": ["Hum-Fc", "sgp130-Fc"], "range": ["white", "black"]}, "legend": {"title": null, "orient": "none", "legendX": 4, "legendY": -39, "labelFontSize": 13, "symbolType": "square", "symbolSize": 50, "symbolStrokeColor": "black", "symbolStrokeWidth": 1, "rowPadding": 0, "labelOffset": 6, "labelColor": "#222"}}}},
   {"data": {"name": "sum"}, "transform": [{"filter": "datum.p == 'IL2'"}], "mark": {"type": "rule", "color": "#e53238", "strokeWidth": 1.5}, "encoding": {"y": {"field": "lo", "type": "quantitative"}, "y2": {"field": "hi"}}},
   {"data": {"name": "sum"}, "transform": [{"filter": "datum.p == 'IL2'"}], "mark": {"type": "tick", "orient": "horizontal", "size": 20, "thickness": 1.5, "color": "#e53238", "opacity": 1}},
   {"data": {"name": "sum"}, "transform": [{"filter": "datum.p == 'IL2'"}], "mark": {"type": "tick", "orient": "horizontal", "size": 10, "thickness": 1.5, "color": "#e53238", "opacity": 1}, "encoding": {"y": {"field": "lo", "type": "quantitative"}}},
   {"data": {"name": "sum"}, "transform": [{"filter": "datum.p == 'IL2'"}], "mark": {"type": "tick", "orient": "horizontal", "size": 10, "thickness": 1.5, "color": "#e53238", "opacity": 1}, "encoding": {"y": {"field": "hi", "type": "quantitative"}}}
  ]},
 {"width": 140, "height": 92, "title": {"text": "B", "dx": -68, "dy": -8},
  "encoding": {"x": {"field": "x", "type": "quantitative", "scale": {"domain": [0.089, 3.895], "range": [0, 137], "nice": false, "zero": false}, "axis": {"values": [1, 3], "labelExpr": "datum.value == 1 ? 'D0' : 'D7'", "title": null}},
   "y": {"field": "v", "type": "quantitative", "scale": {"domain": [0, 1], "range": [92, 0], "nice": false, "zero": false}, "axis": {"values": [0, 0.5, 1], "format": ".1f", "title": "SAA (plasma, O.D.)"}}},
  "layer": [
   {"data": {"name": "pts"}, "transform": [{"filter": "datum.p == 'SAA'"}], "mark": {"type": "point", "shape": "square", "size": 50, "stroke": "black", "strokeWidth": 1, "opacity": 1},
    "encoding": {"fill": {"field": "g", "type": "nominal", "scale": {"domain": ["Hum-Fc", "sgp130-Fc"], "range": ["white", "black"]}, "legend": {"title": null, "orient": "none", "legendX": 4, "legendY": -39, "labelFontSize": 13, "symbolType": "square", "symbolSize": 50, "symbolStrokeColor": "black", "symbolStrokeWidth": 1, "rowPadding": 0, "labelOffset": 6, "labelColor": "#222"}}}},
   {"data": {"name": "sum"}, "transform": [{"filter": "datum.p == 'SAA'"}], "mark": {"type": "rule", "color": "#e53238", "strokeWidth": 1.5}, "encoding": {"y": {"field": "lo", "type": "quantitative"}, "y2": {"field": "hi"}}},
   {"data": {"name": "sum"}, "transform": [{"filter": "datum.p == 'SAA'"}], "mark": {"type": "tick", "orient": "horizontal", "size": 20, "thickness": 1.5, "color": "#e53238", "opacity": 1}},
   {"data": {"name": "sum"}, "transform": [{"filter": "datum.p == 'SAA'"}], "mark": {"type": "tick", "orient": "horizontal", "size": 10, "thickness": 1.5, "color": "#e53238", "opacity": 1}, "encoding": {"y": {"field": "lo", "type": "quantitative"}}},
   {"data": {"name": "sum"}, "transform": [{"filter": "datum.p == 'SAA'"}], "mark": {"type": "tick", "orient": "horizontal", "size": 10, "thickness": 1.5, "color": "#e53238", "opacity": 1}, "encoding": {"y": {"field": "hi", "type": "quantitative"}}}
  ]},
 {"width": 149, "height": 102,
  "encoding": {"x": {"field": "x", "type": "quantitative", "scale": {"domain": [0.123, 3.876], "range": [0, 137], "nice": false, "zero": false}, "axis": {"values": [1, 3], "labelExpr": "datum.value == 1 ? 'D0' : 'D7'", "title": null}},
   "y": {"field": "v", "type": "quantitative", "scale": {"domain": [0, 1.2], "range": [102, 10], "nice": false, "zero": false}, "axis": {"values": [0, 0.6, 1.2], "format": ".1f", "title": "IFNγ (pg/ml)"}}},
  "layer": [
   {"data": {"name": "pts"}, "transform": [{"filter": "datum.p == 'IFN'"}], "mark": {"type": "point", "shape": "square", "size": 50, "stroke": "black", "strokeWidth": 1, "opacity": 1},
    "encoding": {"fill": {"field": "g", "type": "nominal", "scale": {"domain": ["Hum-Fc", "sgp130-Fc"], "range": ["white", "black"]}, "legend": {"title": null, "orient": "none", "legendX": 4, "legendY": -39, "labelFontSize": 13, "symbolType": "square", "symbolSize": 50, "symbolStrokeColor": "black", "symbolStrokeWidth": 1, "rowPadding": 0, "labelOffset": 6, "labelColor": "#222"}}}},
   {"data": {"name": "sum"}, "transform": [{"filter": "datum.p == 'IFN'"}], "mark": {"type": "rule", "color": "#e53238", "strokeWidth": 1.5}, "encoding": {"y": {"field": "lo", "type": "quantitative"}, "y2": {"field": "hi"}}},
   {"data": {"name": "sum"}, "transform": [{"filter": "datum.p == 'IFN'"}], "mark": {"type": "tick", "orient": "horizontal", "size": 20, "thickness": 1.5, "color": "#e53238", "opacity": 1}},
   {"data": {"name": "sum"}, "transform": [{"filter": "datum.p == 'IFN'"}], "mark": {"type": "tick", "orient": "horizontal", "size": 10, "thickness": 1.5, "color": "#e53238", "opacity": 1}, "encoding": {"y": {"field": "lo", "type": "quantitative"}}},
   {"data": {"name": "sum"}, "transform": [{"filter": "datum.p == 'IFN'"}], "mark": {"type": "tick", "orient": "horizontal", "size": 10, "thickness": 1.5, "color": "#e53238", "opacity": 1}, "encoding": {"y": {"field": "hi", "type": "quantitative"}}}
  ]},
 {"width": 145, "height": 102,
  "encoding": {"x": {"field": "x", "type": "quantitative", "scale": {"domain": [0.135, 3.89], "range": [0, 139], "nice": false, "zero": false}, "axis": {"values": [1, 3], "labelExpr": "datum.value == 1 ? 'D0' : 'D7'", "title": null}},
   "y": {"field": "v", "type": "quantitative", "scale": {"domain": [0, 1.2], "range": [102, 10], "nice": false, "zero": false}, "axis": {"values": [0, 0.6, 1.2], "format": ".1f", "title": "IL-4 (pg/mL)"}}},
  "layer": [
   {"data": {"name": "pts"}, "transform": [{"filter": "datum.p == 'IL4'"}], "mark": {"type": "point", "shape": "square", "size": 50, "stroke": "black", "strokeWidth": 1, "opacity": 1},
    "encoding": {"fill": {"field": "g", "type": "nominal", "scale": {"domain": ["Hum-Fc", "sgp130-Fc"], "range": ["white", "black"]}, "legend": {"title": null, "orient": "none", "legendX": 4, "legendY": -39, "labelFontSize": 13, "symbolType": "square", "symbolSize": 50, "symbolStrokeColor": "black", "symbolStrokeWidth": 1, "rowPadding": 0, "labelOffset": 6, "labelColor": "#222"}}}},
   {"data": {"name": "sum"}, "transform": [{"filter": "datum.p == 'IL4'"}], "mark": {"type": "rule", "color": "#e53238", "strokeWidth": 1.5}, "encoding": {"y": {"field": "lo", "type": "quantitative"}, "y2": {"field": "hi"}}},
   {"data": {"name": "sum"}, "transform": [{"filter": "datum.p == 'IL4'"}], "mark": {"type": "tick", "orient": "horizontal", "size": 20, "thickness": 1.5, "color": "#e53238", "opacity": 1}},
   {"data": {"name": "sum"}, "transform": [{"filter": "datum.p == 'IL4'"}], "mark": {"type": "tick", "orient": "horizontal", "size": 10, "thickness": 1.5, "color": "#e53238", "opacity": 1}, "encoding": {"y": {"field": "lo", "type": "quantitative"}}},
   {"data": {"name": "sum"}, "transform": [{"filter": "datum.p == 'IL4'"}], "mark": {"type": "tick", "orient": "horizontal", "size": 10, "thickness": 1.5, "color": "#e53238", "opacity": 1}, "encoding": {"y": {"field": "hi", "type": "quantitative"}}}
  ]},
 {"width": 174, "height": 102,
  "encoding": {"x": {"field": "x", "type": "quantitative", "scale": {"domain": [0.162, 3.86], "range": [0, 137], "nice": false, "zero": false}, "axis": {"values": [1, 3], "labelExpr": "datum.value == 1 ? 'D0' : 'D7'", "title": null}},
   "y": {"field": "v", "type": "quantitative", "scale": {"domain": [0, 70], "range": [102, 10], "nice": false, "zero": false}, "axis": {"values": [0, 35, 70], "title": "IL-10 (pg/ml)"}}},
  "layer": [
   {"data": {"name": "pts"}, "transform": [{"filter": "datum.p == 'IL10'"}], "mark": {"type": "point", "shape": "square", "size": 50, "stroke": "black", "strokeWidth": 1, "opacity": 1},
    "encoding": {"fill": {"field": "g", "type": "nominal", "scale": {"domain": ["Hum-Fc", "sgp130-Fc"], "range": ["white", "black"]}, "legend": {"title": null, "orient": "none", "legendX": 4, "legendY": -39, "labelFontSize": 13, "symbolType": "square", "symbolSize": 50, "symbolStrokeColor": "black", "symbolStrokeWidth": 1, "rowPadding": 0, "labelOffset": 6, "labelColor": "#222"}}}},
   {"data": {"name": "sum"}, "transform": [{"filter": "datum.p == 'IL10'"}], "mark": {"type": "rule", "color": "#e53238", "strokeWidth": 1.5}, "encoding": {"y": {"field": "lo", "type": "quantitative"}, "y2": {"field": "hi"}}},
   {"data": {"name": "sum"}, "transform": [{"filter": "datum.p == 'IL10'"}], "mark": {"type": "tick", "orient": "horizontal", "size": 20, "thickness": 1.5, "color": "#e53238", "opacity": 1}},
   {"data": {"name": "sum"}, "transform": [{"filter": "datum.p == 'IL10'"}], "mark": {"type": "tick", "orient": "horizontal", "size": 10, "thickness": 1.5, "color": "#e53238", "opacity": 1}, "encoding": {"y": {"field": "lo", "type": "quantitative"}}},
   {"data": {"name": "sum"}, "transform": [{"filter": "datum.p == 'IL10'"}], "mark": {"type": "tick", "orient": "horizontal", "size": 10, "thickness": 1.5, "color": "#e53238", "opacity": 1}, "encoding": {"y": {"field": "hi", "type": "quantitative"}}}
  ]},
 {"width": 140, "height": 102, "title": {"text": "C", "dx": -68, "dy": 2},
  "encoding": {"x": {"field": "x", "type": "quantitative", "scale": {"domain": [0.057, 3.74], "range": [0, 129], "nice": false, "zero": false}, "axis": {"values": [1, 3], "labelExpr": "datum.value == 1 ? 'D0' : 'D7'", "title": null}},
   "y": {"field": "v", "type": "quantitative", "scale": {"domain": [90, 170], "range": [102, 10], "nice": false, "zero": false}, "axis": {"values": [90, 130, 170], "title": ["Systolic blood pressure", "(mmHg)"]}}},
  "layer": [
   {"data": {"name": "pts"}, "transform": [{"filter": "datum.p == 'SBP'"}], "mark": {"type": "point", "shape": "square", "size": 50, "stroke": "black", "strokeWidth": 1, "opacity": 1},
    "encoding": {"fill": {"field": "g", "type": "nominal", "scale": {"domain": ["Hum-Fc", "sgp130-Fc"], "range": ["white", "black"]}, "legend": {"title": null, "orient": "none", "legendX": 4, "legendY": -39, "labelFontSize": 13, "symbolType": "square", "symbolSize": 50, "symbolStrokeColor": "black", "symbolStrokeWidth": 1, "rowPadding": 0, "labelOffset": 6, "labelColor": "#222"}}}},
   {"data": {"name": "sum"}, "transform": [{"filter": "datum.p == 'SBP'"}], "mark": {"type": "rule", "color": "#e53238", "strokeWidth": 1.5}, "encoding": {"y": {"field": "lo", "type": "quantitative"}, "y2": {"field": "hi"}}},
   {"data": {"name": "sum"}, "transform": [{"filter": "datum.p == 'SBP'"}], "mark": {"type": "tick", "orient": "horizontal", "size": 20, "thickness": 1.5, "color": "#e53238", "opacity": 1}},
   {"data": {"name": "sum"}, "transform": [{"filter": "datum.p == 'SBP'"}], "mark": {"type": "tick", "orient": "horizontal", "size": 10, "thickness": 1.5, "color": "#e53238", "opacity": 1}, "encoding": {"y": {"field": "lo", "type": "quantitative"}}},
   {"data": {"name": "sum"}, "transform": [{"filter": "datum.p == 'SBP'"}], "mark": {"type": "tick", "orient": "horizontal", "size": 10, "thickness": 1.5, "color": "#e53238", "opacity": 1}, "encoding": {"y": {"field": "hi", "type": "quantitative"}}}
  ]},
 {"width": 149, "height": 112,
  "encoding": {"x": {"field": "x", "type": "quantitative", "scale": {"domain": [0.127, 3.75], "range": [0, 134], "nice": false, "zero": false}, "axis": {"values": [1, 3], "labelExpr": "datum.value == 1 ? 'D0' : 'D7'", "title": null}},
   "y": {"field": "v", "type": "quantitative", "scale": {"domain": [0, 32], "range": [112, 20], "nice": false, "zero": false}, "axis": {"values": [0, 16, 32], "title": "TNFα (pg/ml)"}}},
  "layer": [
   {"data": {"name": "pts"}, "transform": [{"filter": "datum.p == 'TNF'"}], "mark": {"type": "point", "shape": "square", "size": 50, "stroke": "black", "strokeWidth": 1, "opacity": 1},
    "encoding": {"fill": {"field": "g", "type": "nominal", "scale": {"domain": ["Hum-Fc", "sgp130-Fc"], "range": ["white", "black"]}, "legend": {"title": null, "orient": "none", "legendX": 4, "legendY": -39, "labelFontSize": 13, "symbolType": "square", "symbolSize": 50, "symbolStrokeColor": "black", "symbolStrokeWidth": 1, "rowPadding": 0, "labelOffset": 6, "labelColor": "#222"}}}},
   {"data": {"name": "sum"}, "transform": [{"filter": "datum.p == 'TNF'"}], "mark": {"type": "rule", "color": "#e53238", "strokeWidth": 1.5}, "encoding": {"y": {"field": "lo", "type": "quantitative"}, "y2": {"field": "hi"}}},
   {"data": {"name": "sum"}, "transform": [{"filter": "datum.p == 'TNF'"}], "mark": {"type": "tick", "orient": "horizontal", "size": 20, "thickness": 1.5, "color": "#e53238", "opacity": 1}},
   {"data": {"name": "sum"}, "transform": [{"filter": "datum.p == 'TNF'"}], "mark": {"type": "tick", "orient": "horizontal", "size": 10, "thickness": 1.5, "color": "#e53238", "opacity": 1}, "encoding": {"y": {"field": "lo", "type": "quantitative"}}},
   {"data": {"name": "sum"}, "transform": [{"filter": "datum.p == 'TNF'"}], "mark": {"type": "tick", "orient": "horizontal", "size": 10, "thickness": 1.5, "color": "#e53238", "opacity": 1}, "encoding": {"y": {"field": "hi", "type": "quantitative"}}},
   {"data": {"name": "br"}, "transform": [{"filter": "datum.p == 'TNF'"}], "mark": {"type": "rule", "color": "#222", "strokeWidth": 1}, "encoding": {"x2": {"field": "x2"}, "y2": {"field": "v2"}}},
   {"data": {"name": "sig"}, "transform": [{"filter": "datum.p == 'TNF'"}], "mark": {"type": "text", "color": "#e53238", "fontSize": 11, "baseline": "alphabetic", "dy": 3}, "encoding": {"text": {"field": "t"}}}
  ]},
 {"width": 145, "height": 112,
  "encoding": {"x": {"field": "x", "type": "quantitative", "scale": {"domain": [0.125, 3.70], "range": [0, 134], "nice": false, "zero": false}, "axis": {"values": [1, 3], "labelExpr": "datum.value == 1 ? 'D0' : 'D7'", "title": null}},
   "y": {"field": "v", "type": "quantitative", "scale": {"domain": [0, 600], "range": [112, 20], "nice": false, "zero": false}, "axis": {"values": [0, 300, 600], "title": "CXCL1 (pg/ml)"}}},
  "layer": [
   {"data": {"name": "pts"}, "transform": [{"filter": "datum.p == 'CX'"}], "mark": {"type": "point", "shape": "square", "size": 50, "stroke": "black", "strokeWidth": 1, "opacity": 1},
    "encoding": {"fill": {"field": "g", "type": "nominal", "scale": {"domain": ["Hum-Fc", "sgp130-Fc"], "range": ["white", "black"]}, "legend": {"title": null, "orient": "none", "legendX": 4, "legendY": -39, "labelFontSize": 13, "symbolType": "square", "symbolSize": 50, "symbolStrokeColor": "black", "symbolStrokeWidth": 1, "rowPadding": 0, "labelOffset": 6, "labelColor": "#222"}}}},
   {"data": {"name": "sum"}, "transform": [{"filter": "datum.p == 'CX'"}], "mark": {"type": "rule", "color": "#e53238", "strokeWidth": 1.5}, "encoding": {"y": {"field": "lo", "type": "quantitative"}, "y2": {"field": "hi"}}},
   {"data": {"name": "sum"}, "transform": [{"filter": "datum.p == 'CX'"}], "mark": {"type": "tick", "orient": "horizontal", "size": 20, "thickness": 1.5, "color": "#e53238", "opacity": 1}},
   {"data": {"name": "sum"}, "transform": [{"filter": "datum.p == 'CX'"}], "mark": {"type": "tick", "orient": "horizontal", "size": 10, "thickness": 1.5, "color": "#e53238", "opacity": 1}, "encoding": {"y": {"field": "lo", "type": "quantitative"}}},
   {"data": {"name": "sum"}, "transform": [{"filter": "datum.p == 'CX'"}], "mark": {"type": "tick", "orient": "horizontal", "size": 10, "thickness": 1.5, "color": "#e53238", "opacity": 1}, "encoding": {"y": {"field": "hi", "type": "quantitative"}}}
  ]},
 {"width": 174, "height": 112,
  "encoding": {"x": {"field": "x", "type": "quantitative", "scale": {"domain": [0.115, 3.98], "range": [0, 141], "nice": false, "zero": false}, "axis": {"values": [1, 3], "labelExpr": "datum.value == 1 ? 'D0' : 'D7'", "title": null}},
   "y": {"field": "v", "type": "quantitative", "scale": {"domain": [0, 1.8], "range": [112, 20], "nice": false, "zero": false}, "axis": {"values": [0, 0.9, 1.8], "format": ".1f", "title": "IL-1β (pg/ml)"}}},
  "layer": [
   {"data": {"name": "pts"}, "transform": [{"filter": "datum.p == 'IL1'"}], "mark": {"type": "point", "shape": "square", "size": 50, "stroke": "black", "strokeWidth": 1, "opacity": 1},
    "encoding": {"fill": {"field": "g", "type": "nominal", "scale": {"domain": ["Hum-Fc", "sgp130-Fc"], "range": ["white", "black"]}, "legend": {"title": null, "orient": "none", "legendX": 4, "legendY": -39, "labelFontSize": 13, "symbolType": "square", "symbolSize": 50, "symbolStrokeColor": "black", "symbolStrokeWidth": 1, "rowPadding": 0, "labelOffset": 6, "labelColor": "#222"}}}},
   {"data": {"name": "sum"}, "transform": [{"filter": "datum.p == 'IL1'"}], "mark": {"type": "rule", "color": "#e53238", "strokeWidth": 1.5}, "encoding": {"y": {"field": "lo", "type": "quantitative"}, "y2": {"field": "hi"}}},
   {"data": {"name": "sum"}, "transform": [{"filter": "datum.p == 'IL1'"}], "mark": {"type": "tick", "orient": "horizontal", "size": 20, "thickness": 1.5, "color": "#e53238", "opacity": 1}},
   {"data": {"name": "sum"}, "transform": [{"filter": "datum.p == 'IL1'"}], "mark": {"type": "tick", "orient": "horizontal", "size": 10, "thickness": 1.5, "color": "#e53238", "opacity": 1}, "encoding": {"y": {"field": "lo", "type": "quantitative"}}},
   {"data": {"name": "sum"}, "transform": [{"filter": "datum.p == 'IL1'"}], "mark": {"type": "tick", "orient": "horizontal", "size": 10, "thickness": 1.5, "color": "#e53238", "opacity": 1}, "encoding": {"y": {"field": "hi", "type": "quantitative"}}}
  ]},
 {"width": 140, "height": 112, "title": {"text": "D", "dx": -67, "dy": 28},
  "encoding": {"x": {"field": "x", "type": "quantitative", "scale": {"domain": [0, 14], "range": [0, 139], "nice": false, "zero": false}, "axis": {"values": [0, 7, 14], "title": "Time (days)", "titleFontSize": 12}},
   "y": {"field": "v", "type": "quantitative", "scale": {"domain": [0, 100], "range": [112, 20], "nice": false, "zero": false}, "axis": {"values": [0, 50, 100], "title": "Survival (%)"}}},
  "layer": [
   {"data": {"name": "surv"}, "mark": {"type": "line", "interpolate": "step-after", "color": "#222", "strokeWidth": 1}, "encoding": {"detail": {"field": "g"}}},
   {"data": {"name": "surv"}, "transform": [{"filter": "datum.x > 0"}], "mark": {"type": "point", "shape": "square", "size": 50, "stroke": "black", "strokeWidth": 1, "opacity": 1},
    "encoding": {"fill": {"field": "g", "type": "nominal", "scale": {"domain": ["Hum-Fc", "sgp130-Fc"], "range": ["white", "black"]}, "legend": {"title": null, "orient": "none", "legendX": 4, "legendY": -39, "labelFontSize": 13, "symbolType": "square", "symbolSize": 50, "symbolStrokeColor": "black", "symbolStrokeWidth": 1, "rowPadding": 0, "labelOffset": 6, "labelColor": "#222"}}}},
   {"data": {"name": "sig"}, "transform": [{"filter": "datum.p == 'D'"}], "mark": {"type": "text", "color": "#e53238", "fontSize": 11, "baseline": "alphabetic", "dy": 3}, "encoding": {"text": {"field": "t"}}}
  ]}
]
}
